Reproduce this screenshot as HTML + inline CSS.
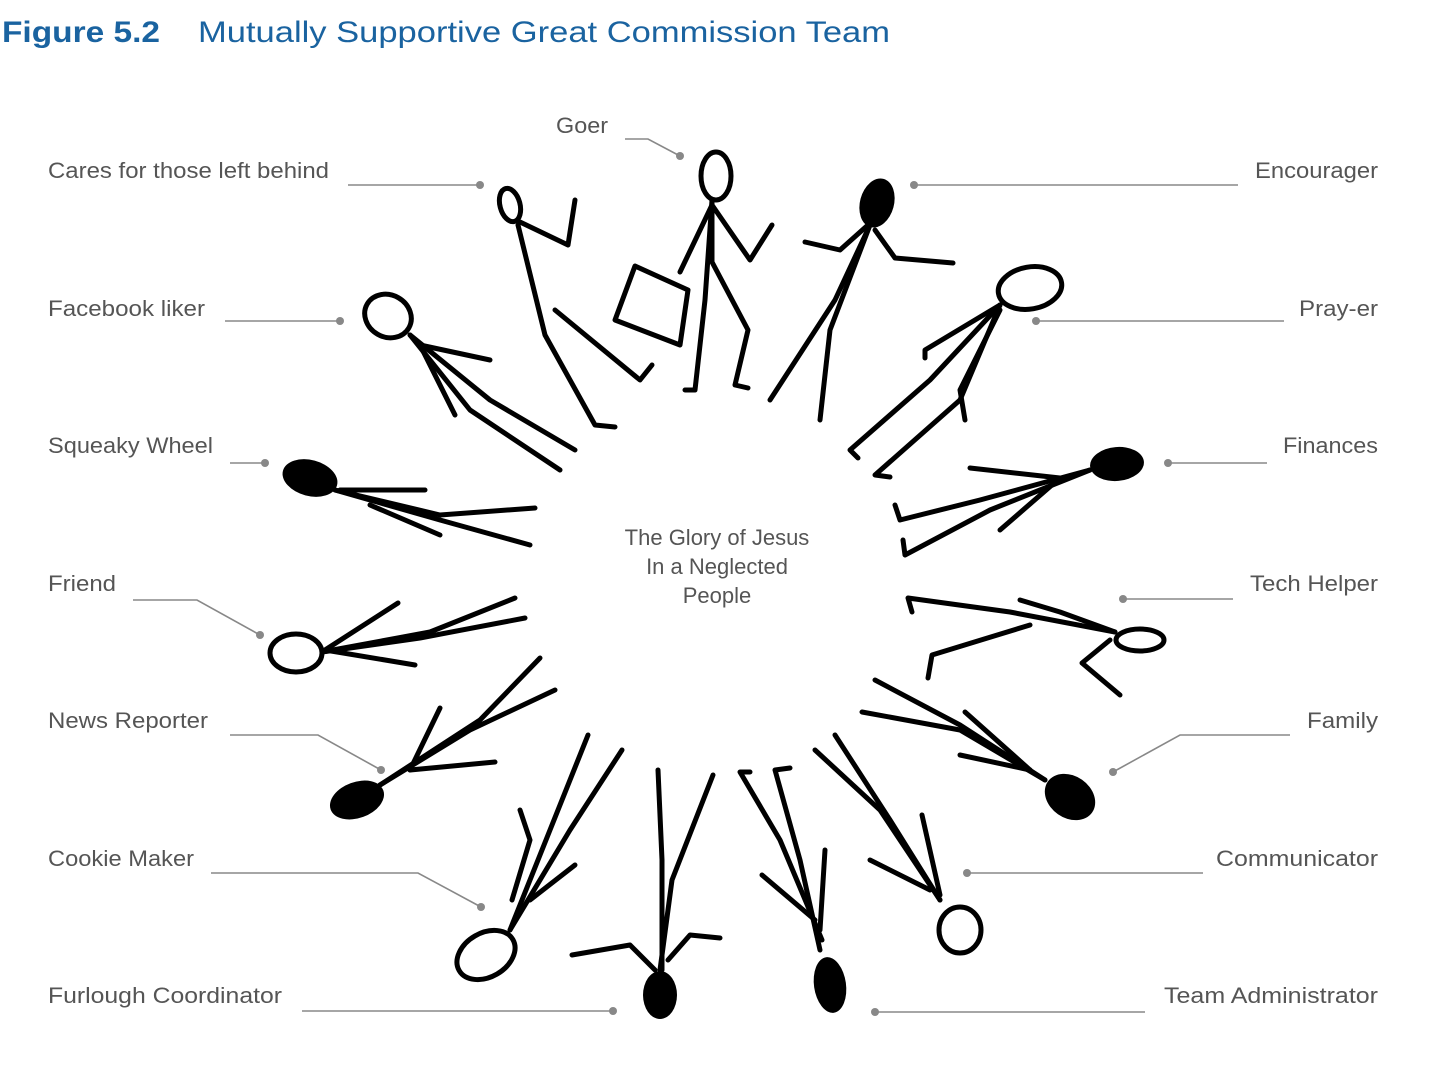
<!DOCTYPE html>
<html><head><meta charset="utf-8"><style>
html,body{margin:0;padding:0;background:#fff;}
svg{display:block}
text{font-family:"Liberation Sans",sans-serif;}
.l{font-size:22px;fill:#555;}
.ld{stroke:#888;stroke-width:1.6;fill:none}
.f{stroke:#000;stroke-width:5;fill:none;stroke-linecap:round;stroke-linejoin:round}
.h{stroke:#000;stroke-width:5;fill:none}
.hf{fill:#000}
</style></head><body>
<svg width="1435" height="1065" viewBox="0 0 1435 1065">
<text x="2" y="42" font-size="30" font-weight="bold" fill="#1a63a0" textLength="158" lengthAdjust="spacingAndGlyphs">Figure 5.2</text>
<text x="198" y="42" font-size="30" fill="#1a63a0" textLength="692" lengthAdjust="spacingAndGlyphs">Mutually Supportive Great Commission Team</text>

<!-- labels -->
<text class="l" x="556" y="133" textLength="52" lengthAdjust="spacingAndGlyphs">Goer</text>
<text class="l" x="48" y="178" textLength="281" lengthAdjust="spacingAndGlyphs">Cares for those left behind</text>
<text class="l" x="1255" y="178" textLength="123" lengthAdjust="spacingAndGlyphs">Encourager</text>
<text class="l" x="48" y="316" textLength="157" lengthAdjust="spacingAndGlyphs">Facebook liker</text>
<text class="l" x="1299" y="316" textLength="79" lengthAdjust="spacingAndGlyphs">Pray-er</text>
<text class="l" x="48" y="453" textLength="165" lengthAdjust="spacingAndGlyphs">Squeaky Wheel</text>
<text class="l" x="1283" y="453" textLength="95" lengthAdjust="spacingAndGlyphs">Finances</text>
<text class="l" x="48" y="591" textLength="68" lengthAdjust="spacingAndGlyphs">Friend</text>
<text class="l" x="1250" y="591" textLength="128" lengthAdjust="spacingAndGlyphs">Tech Helper</text>
<text class="l" x="48" y="728" textLength="160" lengthAdjust="spacingAndGlyphs">News Reporter</text>
<text class="l" x="1307" y="728" textLength="71" lengthAdjust="spacingAndGlyphs">Family</text>
<text class="l" x="48" y="866" textLength="146" lengthAdjust="spacingAndGlyphs">Cookie Maker</text>
<text class="l" x="1216" y="866" textLength="162" lengthAdjust="spacingAndGlyphs">Communicator</text>
<text class="l" x="48" y="1003" textLength="234" lengthAdjust="spacingAndGlyphs">Furlough Coordinator</text>
<text class="l" x="1164" y="1003" textLength="214" lengthAdjust="spacingAndGlyphs">Team Administrator</text>

<text class="l" x="717" y="545" text-anchor="middle">The Glory of Jesus</text>
<text class="l" x="717" y="574" text-anchor="middle">In a Neglected</text>
<text class="l" x="717" y="603" text-anchor="middle">People</text>

<!-- leaders -->
<g class="ld">
<polyline points="625,139 648,139 680,156"/>
<line x1="348" y1="185" x2="480" y2="185"/>
<line x1="914" y1="185" x2="1238" y2="185"/>
<line x1="225" y1="321" x2="340" y2="321"/>
<line x1="1036" y1="321" x2="1284" y2="321"/>
<line x1="230" y1="463" x2="265" y2="463"/>
<line x1="1168" y1="463" x2="1267" y2="463"/>
<polyline points="133,600 197,600 260,635"/>
<line x1="1123" y1="599" x2="1233" y2="599"/>
<polyline points="230,735 318,735 381,770"/>
<polyline points="1290,735 1180,735 1113,772"/>
<polyline points="211,873 418,873 481,907"/>
<line x1="967" y1="873" x2="1203" y2="873"/>
<line x1="302" y1="1011" x2="613" y2="1011"/>
<line x1="875" y1="1012" x2="1145" y2="1012"/>
</g>
<g fill="#888">
<circle cx="680" cy="156" r="4"/><circle cx="480" cy="185" r="4"/><circle cx="914" cy="185" r="4"/>
<circle cx="340" cy="321" r="4"/><circle cx="1036" cy="321" r="4"/><circle cx="265" cy="463" r="4"/>
<circle cx="1168" cy="463" r="4"/><circle cx="260" cy="635" r="4"/><circle cx="1123" cy="599" r="4"/>
<circle cx="381" cy="770" r="4"/><circle cx="1113" cy="772" r="4"/><circle cx="481" cy="907" r="4"/>
<circle cx="967" cy="873" r="4"/><circle cx="613" cy="1011" r="4"/><circle cx="875" cy="1012" r="4"/>
</g>

<!-- figures -->
<g class="f">
<!-- Goer -->
<polyline points="712,200 705,300 695,390 685,390"/>
<polyline points="712,200 712,262 748,330 735,385 748,388"/>
<polyline points="712,205 750,260 772,225"/>
<polyline points="712,205 680,272"/>
<polygon points="635,266 688,290 680,345 615,320"/>
<!-- Cares -->
<polyline points="518,225 545,335 595,425 615,427"/>
<polyline points="520,222 568,245 575,200"/>
<polyline points="555,310 640,380 652,365"/>
<!-- Encourager -->
<polyline points="870,225 830,330 820,420"/>
<polyline points="870,225 835,300 770,400"/>
<polyline points="868,225 840,250 805,242"/>
<polyline points="875,230 895,258 953,263"/>
<!-- Pray-er -->
<polyline points="1000,305 930,380 850,450 858,458"/>
<polyline points="1000,305 960,400 875,475 890,477"/>
<polyline points="1000,305 925,350 925,358"/>
<polyline points="1000,310 960,390 965,420"/>
<!-- Facebook -->
<polyline points="410,335 470,410 560,470"/>
<polyline points="410,335 490,400 575,450"/>
<polyline points="420,345 490,360"/>
<polyline points="420,345 455,415"/>
<!-- Squeaky -->
<polyline points="335,490 440,520 530,545"/>
<polyline points="335,490 440,515 535,508"/>
<polyline points="340,490 425,490"/>
<polyline points="370,505 440,535"/>
<!-- Friend -->
<polyline points="322,652 420,638 525,618"/>
<polyline points="322,652 430,632 515,598"/>
<polyline points="325,650 398,603"/>
<polyline points="325,650 415,665"/>
<!-- News -->
<polyline points="380,785 470,730 555,690"/>
<polyline points="380,785 480,720 540,658"/>
<polyline points="410,770 440,708"/>
<polyline points="410,770 495,762"/>
<!-- Cookie -->
<polyline points="510,930 550,830 588,735"/>
<polyline points="510,930 570,830 622,750"/>
<polyline points="512,900 530,840 520,810"/>
<polyline points="530,900 575,865"/>
<!-- Furlough -->
<polyline points="660,970 672,880 713,775"/>
<polyline points="662,970 662,860 658,770"/>
<polyline points="655,970 630,945 572,955"/>
<polyline points="668,960 690,935 720,938"/>
<!-- Team admin -->
<polyline points="820,950 800,860 775,770 790,768"/>
<polyline points="822,940 780,840 740,772 750,772"/>
<polyline points="815,920 762,875"/>
<polyline points="820,930 825,850"/>
<!-- Communicator -->
<polyline points="940,900 890,820 835,735"/>
<polyline points="940,900 880,810 815,750"/>
<polyline points="930,890 870,860"/>
<polyline points="940,895 922,815"/>
<!-- Family -->
<polyline points="1045,780 960,725 875,680"/>
<polyline points="1045,780 960,730 862,712"/>
<polyline points="1030,770 965,712"/>
<polyline points="1030,770 960,755"/>
<!-- Tech -->
<polyline points="1115,632 1010,612 908,598 912,612"/>
<polyline points="1115,632 1060,612 1020,600"/>
<polyline points="1110,640 1082,663 1120,695"/>
<polyline points="1030,625 932,655 928,678"/>
<!-- Finances -->
<polyline points="1090,470 980,500 900,520 895,505"/>
<polyline points="1090,470 990,510 905,555 903,540"/>
<polyline points="1060,478 1000,530"/>
<polyline points="1060,478 970,468"/>
</g>
<!-- heads -->
<g class="h">
<ellipse cx="716" cy="176" rx="15" ry="24"/>
<ellipse cx="510" cy="205" rx="10" ry="17" transform="rotate(-15 510 205)"/>
<ellipse cx="1030" cy="288" rx="32" ry="21" transform="rotate(-10 1030 288)"/>
<ellipse cx="388" cy="316" rx="24" ry="21" transform="rotate(30 388 316)"/>
<ellipse cx="296" cy="653" rx="26" ry="19"/>
<ellipse cx="486" cy="955" rx="31" ry="22" transform="rotate(-30 486 955)"/>
<ellipse cx="960" cy="930" rx="21" ry="23"/>
<ellipse cx="1140" cy="640" rx="24" ry="11"/>
</g>
<g class="hf">
<ellipse cx="877" cy="203" rx="17" ry="25" transform="rotate(15 877 203)"/>
<ellipse cx="310" cy="478" rx="28" ry="18" transform="rotate(15 310 478)"/>
<ellipse cx="357" cy="800" rx="28" ry="18" transform="rotate(-20 357 800)"/>
<ellipse cx="660" cy="995" rx="17" ry="24"/>
<ellipse cx="830" cy="985" rx="16" ry="28" transform="rotate(-8 830 985)"/>
<ellipse cx="1070" cy="797" rx="27" ry="21" transform="rotate(35 1070 797)"/>
<ellipse cx="1117" cy="464" rx="27" ry="17" transform="rotate(-5 1117 464)"/>
</g>
</svg>
</body></html>
